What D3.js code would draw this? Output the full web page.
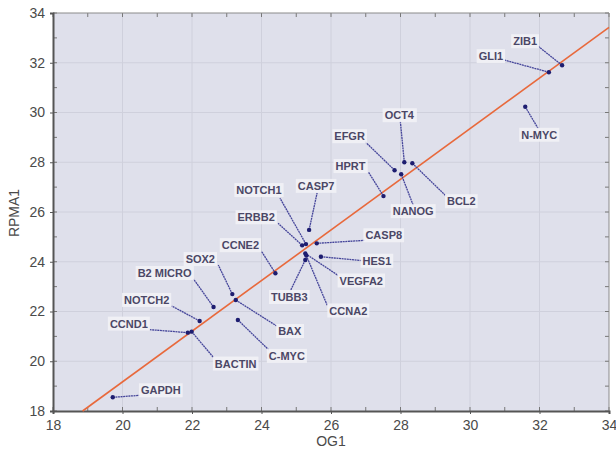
<!DOCTYPE html>
<html><head><meta charset="utf-8">
<script src="https://cdn.jsdelivr.net/npm/d3@7"></script>
<style>
body{margin:0;background:#fff;}
svg{display:block;font-family:Arial,"Liberation Sans",sans-serif;}
</style></head><body>
<svg id="c" width="616" height="459"></svg>
<script>
// ---- data ----
const genes = ["GAPDH","CCND1","BACTIN","NOTCH2","B2 MICRO","SOX2","BAX","C-MYC","CCNE2","ERBB2","NOTCH1","CASP7","CASP8","HES1","VEGFA2","TUBB3","CCNA2","HPRT","EFGR","NANOG","OCT4","BCL2","N-MYC","GLI1","ZIB1"];
const og1   = [19.72,21.88,21.99,22.22,22.62,23.16,23.26,23.32,24.40,25.17,25.28,25.37,25.59,25.71,25.26,25.26,25.29,27.51,27.83,28.02,28.11,28.34,31.59,32.27,32.65];
const rpma1 = [18.55,21.15,21.19,21.62,22.18,22.70,22.46,21.66,23.54,24.66,24.71,25.28,24.74,24.20,24.33,24.07,24.25,26.64,27.68,27.52,28.00,27.96,30.23,31.62,31.90];
const xTicks = [18,20,22,24,26,28,30,32,34];
const yTicks = [18,20,22,24,26,28,30,32,34];
const fitSlope = 1.018, fitIntercept = -1.19;
// label layout (pixel offsets from the point: label centre, leader end)
const labelOffsets = {
 "GAPDH":[48,-7,27,-2],"CCND1":[-59,-9,-38,-3],"BACTIN":[44,32,22,26],"NOTCH2":[-53,-21,-28,-15],
 "B2 MICRO":[-49,-34,-20,-28],"SOX2":[-32,-35,-14,-29],"BAX":[54,31,41,26],"C-MYC":[49,36,31,30],
 "CCNE2":[-35,-28,-14,-22],"ERBB2":[-46,-28,-24,-22],"NOTCH1":[-47,-54,-26,-46],"CASP7":[7,-44,8,-37],
 "CASP8":[67,-8,48,-3],"HES1":[56,4,43,4],"VEGFA2":[56,27,33,22],"TUBB3":[-16,37,-15,31],
 "CCNA2":[42,55,21,50],"HPRT":[-33,-30,-15,-24],"EFGR":[-45,-34,-30,-29],"NANOG":[12,37,12,31],
 "OCT4":[-5,-47,-4,-41],"BCL2":[49,38,34,33],"N-MYC":[14,28,13,22],"GLI1":[-58,-16,-44,-12],"ZIB1":[-37,-24,-24,-19]
};

const svg = d3.select("#c");
const L=53,R=609,T=13,B=411;
const x = d3.scaleLinear().domain([18,34]).range([L,R]);
const y = d3.scaleLinear().domain([18,34]).range([B,T]);

svg.append("rect").attr("x",L).attr("y",T).attr("width",R-L).attr("height",B-T).attr("fill","#dfe0eb");

// grid
const g = svg.append("g");
g.selectAll(".gx").data(xTicks.slice(1,-1)).join("line")
 .attr("x1",d=>x(d)).attr("x2",d=>x(d)).attr("y1",T).attr("y2",B).attr("stroke","#cfd0dc").attr("stroke-width",1);
g.selectAll(".gy").data(yTicks.slice(1,-1)).join("line")
 .attr("y1",d=>y(d)).attr("y2",d=>y(d)).attr("x1",L).attr("x2",R).attr("stroke","#cfd0dc").attr("stroke-width",1);

// minor ticks on all sides
const units = d3.range(18,35);
const tk = svg.append("g").attr("stroke","#777").attr("stroke-width",1);
units.forEach(u=>{
  tk.append("line").attr("x1",x(u)).attr("x2",x(u)).attr("y1",T).attr("y2",T+4);
  tk.append("line").attr("x1",x(u)).attr("x2",x(u)).attr("y1",B).attr("y2",B-4);
  tk.append("line").attr("y1",y(u)).attr("y2",y(u)).attr("x1",L).attr("x2",L+4);
  tk.append("line").attr("y1",y(u)).attr("y2",y(u)).attr("x1",R).attr("x2",R-4);
});

// frame
svg.append("line").attr("x1",L).attr("x2",R).attr("y1",T).attr("y2",T).attr("stroke","#8a8a8a");
svg.append("line").attr("x1",R).attr("x2",R).attr("y1",T).attr("y2",B).attr("stroke","#8a8a8a");

// axes
const xAxis = d3.axisBottom(x).tickValues(xTicks).tickSize(3).tickPadding(5);
const yAxis = d3.axisLeft(y).tickValues(yTicks).tickSize(3).tickPadding(5);
const ax = svg.append("g").attr("transform",`translate(0,${B})`).call(xAxis);
const ay = svg.append("g").attr("transform",`translate(${L},0)`).call(yAxis);
[ax,ay].forEach(a=>{
  a.select(".domain").attr("stroke","#555").attr("stroke-width",2);
  a.selectAll(".tick line").attr("stroke","#555");
  a.selectAll(".tick text").attr("fill","#4a4a4a").style("font-size","14px").style("font-family","Arial,'Liberation Sans',sans-serif");
});
ax.selectAll(".tick text").attr("y",19).attr("dy",0);

svg.append("text").attr("x",331).attr("y",446).attr("text-anchor","middle").attr("fill","#4a4a4a").style("font-size","14px").text("OG1");
svg.append("text").attr("transform","translate(19,213) rotate(-90)").attr("text-anchor","middle").attr("fill","#4a4a4a").style("font-size","14px").text("RPMA1");

// regression line clipped to plot
const x0 = (18-fitIntercept)/fitSlope, x1 = 34;
svg.append("line").attr("x1",x(x0)).attr("y1",y(fitSlope*x0+fitIntercept))
 .attr("x2",x(x1)).attr("y2",y(fitSlope*x1+fitIntercept)).attr("stroke","#e8693c").attr("stroke-width",1.6);

const pts = genes.map((n,i)=>({n,px:x(og1[i]),py:y(rpma1[i])}));

// leader lines
svg.append("g").selectAll("line").data(pts).join("line")
 .attr("x1",d=>d.px).attr("y1",d=>d.py)
 .attr("x2",d=>d.px+labelOffsets[d.n][2]).attr("y2",d=>d.py+labelOffsets[d.n][3])
 .attr("stroke","#45459a").attr("stroke-width",1.3).attr("stroke-dasharray","2,0.6");

// labels
const lg = svg.append("g").selectAll("g").data(pts).join("g")
 .attr("transform",d=>`translate(${d.px+labelOffsets[d.n][0]},${d.py+labelOffsets[d.n][1]})`);
lg.each(function(d){
  const gg=d3.select(this);
  const t=gg.append("text").attr("text-anchor","middle").attr("dy","0.36em")
   .attr("fill","#4b4766").style("font-size","11px").style("font-weight","bold").text(d.n);
  const bb=t.node().getBBox();
  gg.insert("rect","text").attr("x",bb.x-2).attr("y",bb.y-1).attr("width",bb.width+4).attr("height",bb.height+2)
   .attr("fill","#f2f2f6").attr("opacity",0.9);
});

// points
svg.append("g").selectAll("circle").data(pts).join("circle")
 .attr("cx",d=>d.px).attr("cy",d=>d.py).attr("r",2.2).attr("fill","#1d1d70");
</script></body></html>
